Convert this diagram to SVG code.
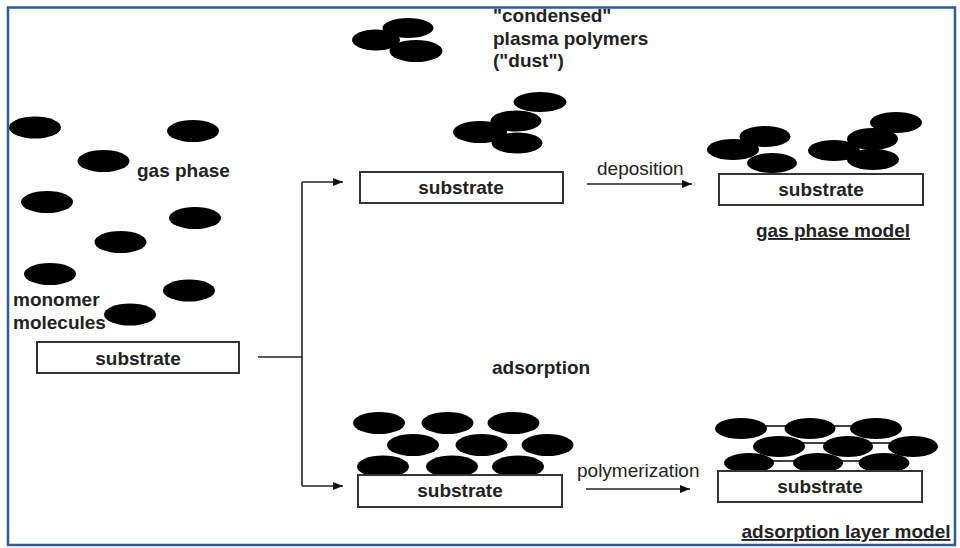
<svg xmlns="http://www.w3.org/2000/svg" width="960" height="548" viewBox="0 0 960 548">
<defs>
<style>
.m{fill:#000}
.box{fill:#fff;stroke:#333;stroke-width:2}
.t{font-family:"Liberation Sans",Arial,Helvetica,sans-serif;font-size:19px;fill:#222}
.b{font-weight:bold}
.c{text-anchor:middle}
.u{text-decoration:underline}
.ln{fill:none;stroke:#222;stroke-width:1.6}
.bond{stroke:#111;stroke-width:1.6}
</style>
<marker id="ah" viewBox="0 0 10 8" refX="10" refY="4" markerWidth="10" markerHeight="8" markerUnits="userSpaceOnUse" orient="auto">
<path d="M0,0 L10,4 L0,8 Z" fill="#111"/>
</marker>
</defs>
<rect width="960" height="548" fill="#fff"/>
<rect x="8" y="7.5" width="947" height="537.5" fill="none" stroke="#2f5b97" stroke-width="2.5"/>

<g id="gas-phase">
<ellipse class="m" cx="35" cy="127.5" rx="26" ry="11"/>
<ellipse class="m" cx="193" cy="131" rx="26" ry="11"/>
<ellipse class="m" cx="103.5" cy="161" rx="26" ry="11"/>
<ellipse class="m" cx="47" cy="202" rx="26" ry="11"/>
<ellipse class="m" cx="195" cy="218" rx="26" ry="11"/>
<ellipse class="m" cx="120.5" cy="242" rx="26" ry="11"/>
<ellipse class="m" cx="50" cy="274" rx="26" ry="11"/>
<ellipse class="m" cx="189" cy="290.5" rx="26" ry="11"/>
<ellipse class="m" cx="130" cy="314.5" rx="26" ry="11"/>
<text class="t b" x="137" y="177">gas phase</text>
<text class="t b" x="13" y="306">monomer</text>
<text class="t b" x="13" y="329">molecules</text>
</g>

<g id="substrate-left">
<rect class="box" x="37" y="342" width="202" height="31"/>
<text class="t b c" x="138" y="365">substrate</text>
</g>

<g id="dust">
<ellipse class="m" cx="376" cy="40" rx="24" ry="10.5"/>
<ellipse class="m" cx="408" cy="28" rx="25.5" ry="10"/>
<ellipse class="m" cx="416" cy="51" rx="26.5" ry="11"/>
<text class="t b" x="493" y="22">"condensed"</text>
<text class="t b" x="493" y="45">plasma polymers</text>
<text class="t b" x="493" y="67">("dust")</text>
</g>

<g id="substrate-top">
<ellipse class="m" cx="540" cy="102" rx="26.5" ry="10"/>
<ellipse class="m" cx="480" cy="132" rx="27" ry="11"/>
<ellipse class="m" cx="516" cy="121" rx="25.5" ry="10.5"/>
<ellipse class="m" cx="517" cy="143" rx="25.5" ry="10.5"/>
<rect class="box" x="360" y="172" width="203" height="31"/>
<text class="t b c" x="461" y="194">substrate</text>
</g>

<g id="gas-phase-model">
<ellipse class="m" cx="733" cy="149.5" rx="26" ry="10.5"/>
<ellipse class="m" cx="765" cy="136.5" rx="25.5" ry="10.5"/>
<ellipse class="m" cx="772" cy="163" rx="25" ry="10"/>
<ellipse class="m" cx="834" cy="150.5" rx="26" ry="10.5"/>
<ellipse class="m" cx="896" cy="122.5" rx="26" ry="10.5"/>
<ellipse class="m" cx="872.5" cy="139" rx="25.5" ry="11"/>
<ellipse class="m" cx="873" cy="159.5" rx="26" ry="10.5"/>
<rect class="box" x="719" y="174" width="204" height="31"/>
<text class="t b c" x="821" y="196">substrate</text>
<text class="t b c u" x="833" y="237">gas phase model</text>
</g>

<g id="adsorption">
<text class="t b" x="492" y="374">adsorption</text>
<ellipse class="m" cx="379" cy="423" rx="26" ry="11"/>
<ellipse class="m" cx="447.5" cy="423" rx="26" ry="11"/>
<ellipse class="m" cx="513.5" cy="423" rx="26" ry="11"/>
<ellipse class="m" cx="413" cy="445" rx="26" ry="11"/>
<ellipse class="m" cx="481.5" cy="445" rx="26" ry="11"/>
<ellipse class="m" cx="547.5" cy="445" rx="26" ry="11"/>
<ellipse class="m" cx="383" cy="466.5" rx="26" ry="11"/>
<ellipse class="m" cx="452" cy="466.5" rx="26" ry="11"/>
<ellipse class="m" cx="518" cy="466.5" rx="26" ry="11"/>
<rect class="box" x="358" y="475" width="204" height="32"/>
<text class="t b c" x="460" y="497">substrate</text>
</g>

<g id="adsorption-layer-model">
<line class="bond" x1="760" y1="426" x2="790" y2="426"/>
<line class="bond" x1="830" y1="426" x2="858" y2="426"/>
<line class="bond" x1="800" y1="443" x2="828" y2="443"/>
<line class="bond" x1="868" y1="443" x2="893" y2="443"/>
<line class="bond" x1="770" y1="461" x2="798" y2="461"/>
<line class="bond" x1="838" y1="461" x2="864" y2="461"/>
<ellipse class="m" cx="741" cy="428.5" rx="26" ry="10.5"/>
<ellipse class="m" cx="810" cy="428.5" rx="25.5" ry="10.5"/>
<ellipse class="m" cx="876" cy="428.5" rx="26" ry="10.5"/>
<ellipse class="m" cx="779" cy="446.5" rx="26" ry="10.5"/>
<ellipse class="m" cx="848" cy="446.5" rx="25" ry="10.5"/>
<ellipse class="m" cx="913" cy="446.5" rx="25" ry="10.5"/>
<ellipse class="m" cx="749" cy="463" rx="25" ry="10"/>
<ellipse class="m" cx="818" cy="463" rx="25" ry="10"/>
<ellipse class="m" cx="884" cy="463" rx="25.5" ry="10"/>
<rect class="box" x="718" y="471" width="204" height="31"/>
<text class="t b c" x="820" y="493">substrate</text>
<text class="t b c u" x="846" y="538">adsorption layer model</text>
</g>

<g id="connectors">
<path class="ln" d="M258,357 H302"/>
<path class="ln" d="M302,182 V486"/>
<path class="ln" d="M302,182 H343" marker-end="url(#ah)"/>
<path class="ln" d="M302,486 H343" marker-end="url(#ah)"/>
<path class="ln" d="M587,184 H692" marker-end="url(#ah)"/>
<path class="ln" d="M586,489 H690" marker-end="url(#ah)"/>
<text class="t" x="597" y="175">deposition</text>
<text class="t" x="577" y="477">polymerization</text>
</g>
</svg>
